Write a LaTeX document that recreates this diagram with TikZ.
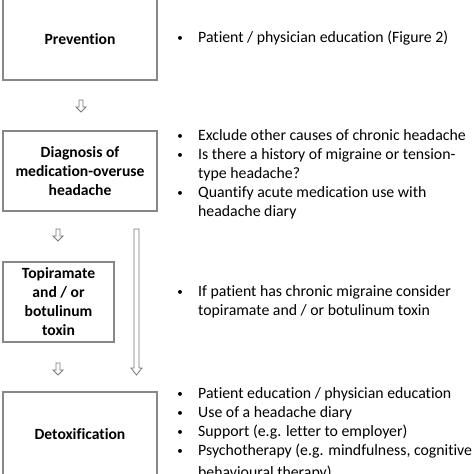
\documentclass[tikz,border=0pt]{standalone}
\usepackage{fontspec}
\setmainfont[Ligatures=NoCommon]{Carlito}
\begin{document}
\begin{tikzpicture}[x=1pt,y=-1pt,
  box/.style={draw=boxgray,line width=1.4pt,fill=white,inner sep=0pt,align=center,font=\fontsize{15.6}{19}\selectfont\bfseries},
  bul/.style={anchor=base,inner sep=0pt,font=\fontsize{11}{19}\selectfont},
  txt/.style={anchor=base west,inner sep=0pt,font=\fontsize{15.8}{19}\selectfont},
  arr/.style={draw=arrgray,line width=0.8pt,fill=white,line join=miter}]
\definecolor{boxgray}{RGB}{135,135,135}
\definecolor{arrgray}{RGB}{120,120,120}
\useasboundingbox (0,0) rectangle (474,474);
\fill[white] (0,0) rectangle (474,474);
\begin{scope}
\clip (0,0) rectangle (474,474);
% boxes
\node[box,minimum width=154pt,minimum height=82pt] (prev) at (80,39) {Prevention};
\node[box,minimum width=154pt,minimum height=80pt] (diag) at (80,171) {Diagnosis of\\medication-overuse\\headache};
\node[box,minimum width=111pt,minimum height=80pt] (topi) at (58.5,302) {Topiramate\\and / or\\botulinum\\toxin};
\node[box,minimum width=154pt,minimum height=84pt] (detox) at (80,434) {Detoxification};
\end{scope}
% small arrows
\coordinate (a1) at (81,100);
\draw[arr] (a1) ++(-2,0) -- ++(4,0) -- ++(0,7) -- ++(3,0) -- ++(-5,5) -- ++(-5,-5) -- ++(3,0) -- cycle;
\coordinate (a2) at (58,229);
\draw[arr] (a2) ++(-2,0) -- ++(4,0) -- ++(0,7) -- ++(3,0) -- ++(-5,5) -- ++(-5,-5) -- ++(3,0) -- cycle;
\coordinate (a3) at (58,363);
\draw[arr] (a3) ++(-2,0) -- ++(4,0) -- ++(0,7) -- ++(3,0) -- ++(-5,5) -- ++(-5,-5) -- ++(3,0) -- cycle;
% long arrow
\coordinate (la) at (136.5,229);
\draw[arr] (la) ++(-2.5,0) -- ++(5,0) -- ++(0,139) -- ++(3,0) -- ++(-5.5,7) -- ++(-5.5,-7) -- ++(3,0) -- cycle;
% right texts
\node[bul] (b1) at (180,41) {•};
\node[txt] (t1) at (198,42) {Patient / physician education (Figure 2)};
\node[bul] (b2) at (180,139) {•};
\node[txt] (t2) at (198,140) {Exclude other causes of chronic headache};
\node[bul] (b3) at (180,158) {•};
\node[txt] (t3) at (198,159) {Is there a history of migraine or tension-};
\node[txt] (t3b) at (198,178) {type headache?};
\node[bul] (b4) at (180,196) {•};
\node[txt] (t4) at (198,197) {Quantify acute medication use with};
\node[txt] (t4b) at (198,216) {headache diary};
\node[bul] (b5) at (180,295) {•};
\node[txt] (t5) at (198,296) {If patient has chronic migraine consider};
\node[txt] (t5b) at (198,315) {topiramate and / or botulinum toxin};
\node[bul] (b6) at (180,397) {•};
\node[txt] (t6) at (198,398) {Patient education / physician education};
\node[bul] (b7) at (180,416) {•};
\node[txt] (t7) at (198,417) {Use of a headache diary};
\node[bul] (b8) at (180,435) {•};
\node[txt] (t8) at (198,436) {Support (e.g. letter to employer)};
\node[bul] (b9) at (180,454) {•};
\node[txt] (t9) at (198,455) {Psychotherapy (e.g. mindfulness, cognitive};
\node[txt] (t9b) at (198,477) {behavioural therapy)};
\end{tikzpicture}
\end{document}
